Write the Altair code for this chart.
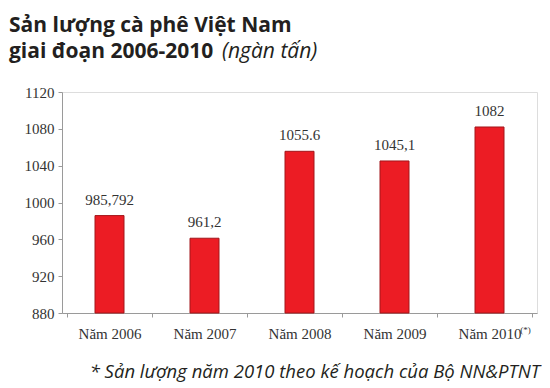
import altair as alt
import pandas as pd

years = ["Năm 2006", "Năm 2007", "Năm 2008", "Năm 2009", "Năm 2010"]
values = [985.792, 961.2, 1055.6, 1045.1, 1082]
value_labels = ["985,792", "961,2", "1055.6", "1045,1", "1082"]
y_ticks = [880, 920, 960, 1000, 1040, 1080, 1120]
y_base = 880

title_line1 = "Sản lượng cà phê Việt Nam"
title_line2 = "giai đoạn 2006-2010"
title_unit = "(ngàn tấn)"
footnote = "* Sản lượng năm 2010 theo kế hoạch của Bộ NN&PTNT"
note_mark = "(*)"

df = pd.DataFrame({"year": years, "value": values, "label": value_labels})

serif = "Liberation Serif"
sans = "Open Sans"

x_enc = alt.X("year:N", sort=years, title=None,
              axis=alt.Axis(labelAngle=0, tickBand="extent", tickSize=4, labelPadding=9,
                            labelFont=serif, labelFontSize=15, labelColor="#333333",
                            domainColor="#9a9a9a", tickColor="#9a9a9a"))
y_enc = alt.Y("value:Q", title=None,
              scale=alt.Scale(domain=[880, 1120], nice=False, zero=False),
              axis=alt.Axis(values=y_ticks, format="d", labelOverlap=False, grid=False,
                            tickSize=4, labelPadding=4,
                            labelFont=serif, labelFontSize=15, labelColor="#333333",
                            domainColor="#9a9a9a", tickColor="#9a9a9a"))

base = alt.Chart(df)

bars = base.mark_bar(size=29, color="#ec1c24", stroke="#a3161b", strokeWidth=1).encode(
    x=x_enc, y=y_enc, y2=alt.datum(y_base))

labels = base.mark_text(font=serif, fontSize=15, color="#333333", baseline="alphabetic", dy=-11).encode(
    x=x_enc, y=y_enc, text="label:N")

star = base.transform_filter(alt.datum.year == "Năm 2010").mark_text(
    font=serif, fontSize=9, color="#333333", baseline="top", dx=36).encode(
    x=x_enc, y=alt.value(234), text=alt.value(note_mark))

one = base.transform_filter(alt.datum.year == "Năm 2006")
t1 = one.mark_text(
    font=sans, fontSize=21, fontWeight="bold", color="#231f20", align="left", baseline="alphabetic").encode(
    x=alt.value(-53), y=alt.value(-60), text=alt.value(title_line1))
t2 = one.mark_text(
    font=sans, fontSize=21, fontWeight="bold", color="#231f20", align="left", baseline="alphabetic").encode(
    x=alt.value(-53), y=alt.value(-34), text=alt.value(title_line2))
t3 = one.mark_text(
    font=sans, fontSize=21, fontStyle="italic", color="#231f20", align="left", baseline="alphabetic").encode(
    x=alt.value(160), y=alt.value(-34), text=alt.value(title_unit))
fn = one.mark_text(
    font=sans, fontSize=18.5, fontStyle="italic", color="#231f20", align="right", baseline="alphabetic").encode(
    x=alt.value(478), y=alt.value(286), text=alt.value(footnote))

chart = alt.layer(bars, labels, star, t1, t2, t3, fn).properties(
    width=475, height=221,
    autosize=alt.AutoSizeParams(type="none"),
    padding={"left": 54, "top": 84, "right": 5, "bottom": 75},
).configure_view(stroke=None).configure(background="white")

chart.save("out.html", embed_options={"renderer": "svg", "actions": False})
